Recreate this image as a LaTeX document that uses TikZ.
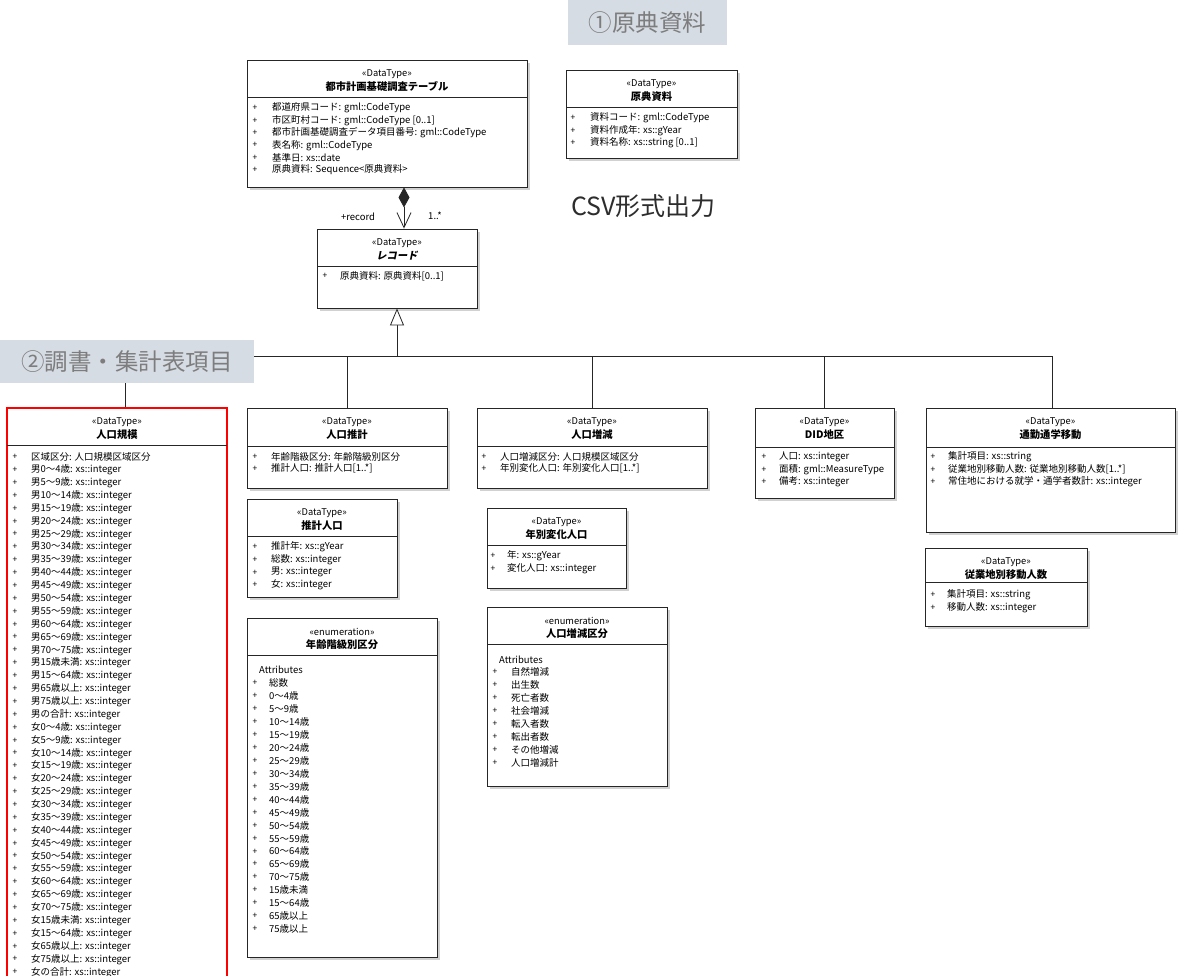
\documentclass[tikz,border=0pt]{standalone}
\usepackage{fontspec}
\setmainfont{Noto Sans CJK JP}
\newfontfamily\slfont[FakeSlant=0.2]{Noto Sans CJK JP}
\usetikzlibrary{arrows.meta,fit,shadows}
\definecolor{tagbg}{RGB}{214,220,228}
\definecolor{taggray}{RGB}{125,125,125}
\definecolor{csvgray}{RGB}{45,45,45}
\tikzset{
  cbox/.style={draw=black!85, line width=0.9pt, fill=white, inner sep=0pt,
    drop shadow={shadow xshift=3pt, shadow yshift=-3pt, fill=black!18, opacity=1}},
  redbox/.style={draw=red, line width=2.4pt, fill=white, inner sep=0pt},
  stereo/.style={font=\fontsize{9.3}{11}\selectfont, inner sep=0pt},
  ttl/.style={font=\fontsize{10.3}{12}\selectfont\bfseries, inner sep=0pt},
  attr/.style={font=\fontsize{9.5}{11}\selectfont, anchor=west, inner sep=0pt},
  plus/.style={font=\fontsize{8.5}{10}\selectfont, inner sep=0pt},
  tag/.style={fill=tagbg, text=taggray, inner sep=0pt, anchor=north west},
  conn/.style={draw=black!85, line width=0.8pt},
}
% name, x1, y1, x2, y2, ydiv, stereotype, title, box style
\newcommand{\umlclass}[9]{%
  \node[#9, fit={(#2,#3) (#4,#5)}] (#1) {};
  \draw[black!85, line width=0.8pt] (#2,#6) -- (#4,#6);
  \node[stereo] (#1s) at ({(#2+#4)/2},{#3+14}) {«#7»};
  \node[ttl] (#1n) at ({(#2+#4)/2},{#3+26.5}) {#8};
}
% prefix, plus x, text x, y0, step, list
\newcommand{\attrlist}[6]{%
  \foreach \t [count=\i from 0] in {#6} {
    \node[plus] (#1p\i) at (#2,{#4+\i*#5}) {+};
    \node[attr] (#1t\i) at (#3,{#4+\i*#5}) {\t};
  }
}
\begin{document}
\begin{tikzpicture}[x=1pt,y=-1pt]
\useasboundingbox (0,0) rectangle (1180,976);
\clip (0,0) rectangle (1180,976);
\fill[white] (0,0) rectangle (1180,976);

% top
\node[tag, minimum width=159pt, minimum height=45pt, font=\fontsize{23.5}{26}\selectfont] (lab1) at (568,0) {①原典資料};
\node[font=\fontsize{25}{28}\selectfont, text=csvgray, anchor=west, inner sep=0pt] (csv) at (571,206) {CSV形式出力};

\umlclass{tbl}{247}{60}{527}{187}{97}{DataType}{都市計画基礎調査テーブル}{cbox}
\attrlist{tbl}{255}{272}{108}{12.4}{都道府県コード: gml::CodeType, 市区町村コード: gml::CodeType [0..1], 都市計画基礎調査データ項目番号: gml::CodeType, 表名称: gml::CodeType, 基準日: xs::date, 原典資料: Sequence<原典資料>}

\umlclass{src}{566}{70}{737}{158}{107}{DataType}{原典資料}{cbox}
\attrlist{src}{573}{590}{118}{12.5}{資料コード: gml::CodeType, 資料作成年: xs::gYear, 資料名称: xs::string [0..1]}

\node[cbox, fit={(317,229) (477,308)}] (rec) {};
\draw[black!85, line width=0.8pt] (317,266) -- (477,266);
\node[stereo] (recs) at (397,243) {«DataType»};
\node[ttl, font=\fontsize{10.3}{12}\selectfont\slfont\bfseries] (recn) at (397,255.5) {レコード};
\attrlist{rec}{325}{340}{276}{12}{原典資料: 原典資料[0..1]}

% subclasses
\umlclass{s1}{7}{408}{227}{995}{445}{DataType}{人口規模}{redbox}
\attrlist{sa}{15}{31}{457}{12.88}{区域区分: 人口規模区域区分, 男0～4歳: xs::integer, 男5～9歳: xs::integer, 男10～14歳: xs::integer, 男15～19歳: xs::integer, 男20～24歳: xs::integer, 男25～29歳: xs::integer, 男30～34歳: xs::integer, 男35～39歳: xs::integer, 男40～44歳: xs::integer, 男45～49歳: xs::integer, 男50～54歳: xs::integer, 男55～59歳: xs::integer, 男60～64歳: xs::integer, 男65～69歳: xs::integer, 男70～75歳: xs::integer, 男15歳未満: xs::integer, 男15～64歳: xs::integer, 男65歳以上: xs::integer, 男75歳以上: xs::integer, 男の合計: xs::integer, 女0～4歳: xs::integer, 女5～9歳: xs::integer, 女10～14歳: xs::integer, 女15～19歳: xs::integer, 女20～24歳: xs::integer, 女25～29歳: xs::integer, 女30～34歳: xs::integer, 女35～39歳: xs::integer, 女40～44歳: xs::integer, 女45～49歳: xs::integer, 女50～54歳: xs::integer, 女55～59歳: xs::integer, 女60～64歳: xs::integer, 女65～69歳: xs::integer, 女70～75歳: xs::integer, 女15歳未満: xs::integer, 女15～64歳: xs::integer, 女65歳以上: xs::integer, 女75歳以上: xs::integer, 女の合計: xs::integer}

\umlclass{s2}{247}{408}{447}{488}{446}{DataType}{人口推計}{cbox}
\attrlist{sb}{255}{271}{457}{11.5}{年齢階級区分: 年齢階級別区分, 推計人口: 推計人口[1..*]}

\umlclass{c2}{247}{499}{397}{597}{536}{DataType}{推計人口}{cbox}
\attrlist{cb}{255}{271}{547}{12.7}{推計年: xs::gYear, 総数: xs::integer, 男: xs::integer, 女: xs::integer}

\umlclass{e1}{247}{618}{437}{957}{655}{enumeration}{年齢階級別区分}{cbox}
\node[attr] (e1h) at (259,670) {Attributes};
\attrlist{ea}{255}{269}{683}{12.95}{総数, 0～4歳, 5～9歳, 10～14歳, 15～19歳, 20～24歳, 25～29歳, 30～34歳, 35～39歳, 40～44歳, 45～49歳, 50～54歳, 55～59歳, 60～64歳, 65～69歳, 70～75歳, 15歳未満, 15～64歳, 65歳以上, 75歳以上}

\umlclass{s3}{477}{408}{707}{488}{446}{DataType}{人口増減}{cbox}
\attrlist{sc}{484}{500}{457}{11.5}{人口増減区分: 人口規模区域区分, 年別変化人口: 年別変化人口[1..*]}

\umlclass{c3}{487}{508}{626}{588}{545}{DataType}{年別変化人口}{cbox}
\attrlist{cc}{493}{507}{556}{12.5}{年: xs::gYear, 変化人口: xs::integer}

\umlclass{e2}{487}{607}{667}{786}{644}{enumeration}{人口増減区分}{cbox}
\node[attr] (e2h) at (499,660) {Attributes};
\attrlist{eb}{495}{511}{672}{13}{自然増減, 出生数, 死亡者数, 社会増減, 転入者数, 転出者数, その他増減, 人口増減計}

\umlclass{s4}{755}{408}{894}{498}{447}{DataType}{DID地区}{cbox}
\attrlist{sd}{764}{779}{457}{12.5}{人口: xs::integer, 面積: gml::MeasureType, 備考: xs::integer}

\umlclass{s5}{926}{408}{1175}{532}{447}{DataType}{通勤通学移動}{cbox}
\attrlist{se}{933}{948}{457}{12.5}{集計項目: xs::string, 従業地別移動人数: 従業地別移動人数[1..*], 常住地における就学・通学者数計: xs::integer}

\umlclass{c5}{925}{548}{1087}{626}{582}{DataType}{従業地別移動人数}{cbox}
\attrlist{ce}{933}{947}{595}{13}{集計項目: xs::string, 移動人数: xs::integer}

% composition
\draw[conn, {Diamond[length=20pt,width=11pt]}-{Straight Barb[length=15pt,width=14pt]}] ([xshift=17pt]tbl.south) -- ([xshift=7pt]rec.north);
\node[attr, anchor=center] (role) at (358,217) {+record};
\node[attr, anchor=center] (mult) at (435,216) {1..*};

% generalization
\coordinate (gj) at (397,356);
\draw[conn, -{Triangle[open, length=17pt, width=14pt, fill=white]}] (gj) -- (rec.south);
\draw[conn] ([xshift=8pt]s1.north) |- (gj);
\draw[conn] (s2.north) |- (gj);
\draw[conn] (s3.north) |- (gj);
\draw[conn] (s4.north) |- (gj);
\draw[conn] ([xshift=2pt]s5.north) |- (gj);

\node[tag, minimum width=254pt, minimum height=43pt, font=\fontsize{23.5}{26}\selectfont] (lab2) at (0,340) {②調書・集計表項目};
\end{tikzpicture}
\end{document}
